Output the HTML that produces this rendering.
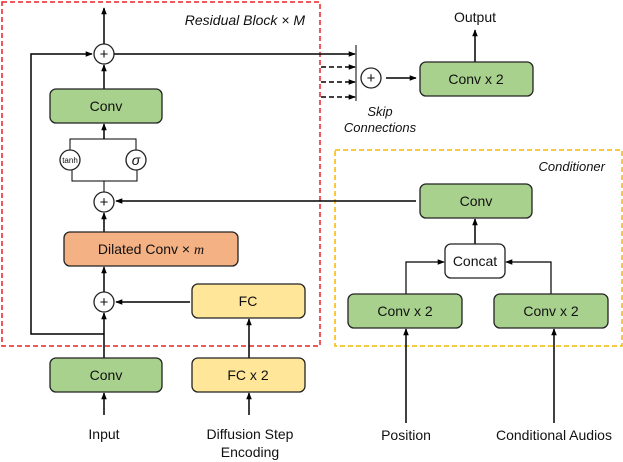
<!DOCTYPE html>
<html><head><meta charset="utf-8"><style>
html,body{margin:0;padding:0;background:#fff;}
svg{display:block;}
text{font-family:"Liberation Sans",sans-serif;fill:#111;}
</style></head><body>
<svg width="623" height="462" viewBox="0 0 623 462" xmlns="http://www.w3.org/2000/svg">
<defs>
<marker id="a" viewBox="0 0 10 10" refX="9" refY="5" markerWidth="7" markerHeight="7" orient="auto-start-reverse" markerUnits="userSpaceOnUse"><path d="M0,1 L10,5 L0,9 z" fill="#000"/></marker>
</defs>
<!-- boxes outlines -->
<rect x="2" y="2" width="318" height="344" fill="none" stroke="#e8202a" stroke-width="1.5" stroke-dasharray="5,3"/>
<rect x="335" y="150" width="287" height="196" fill="none" stroke="#f5b800" stroke-width="1.5" stroke-dasharray="5,3"/>
<text x="305" y="25" text-anchor="end" font-style="italic" font-size="14">Residual Block × M</text>
<text x="605" y="171" text-anchor="end" font-style="italic" font-size="13">Conditioner</text>

<g stroke="#000" stroke-width="1.5" fill="none">
<!-- residual loop -->
<polyline points="104,334 31,334 31,54 92,54" marker-end="url(#a)"/>
<line x1="104" y1="44" x2="104" y2="8" marker-end="url(#a)"/>
<line x1="114" y1="54" x2="355" y2="54" marker-end="url(#a)"/>
<line x1="104" y1="89" x2="104" y2="65" marker-end="url(#a)"/>
<line x1="104" y1="139" x2="104" y2="124" marker-end="url(#a)"/>
<polyline points="70,150 70,139 136,139 136,150" stroke-width="1"/>
<polyline points="72,170 72,181 137,181 137,170" stroke-width="1"/>
<line x1="104" y1="181" x2="104" y2="192" stroke-width="1"/>
<line x1="104" y1="232" x2="104" y2="213" marker-end="url(#a)"/>
<line x1="104" y1="292" x2="104" y2="267" marker-end="url(#a)"/>
<line x1="104" y1="358" x2="104" y2="313" marker-end="url(#a)"/>
<line x1="104" y1="415" x2="104" y2="393" marker-end="url(#a)"/>
<line x1="190" y1="302" x2="116" y2="302" marker-end="url(#a)"/>
<line x1="249" y1="358" x2="249" y2="319" marker-end="url(#a)"/>
<line x1="249" y1="415" x2="249" y2="393" marker-end="url(#a)"/>
<line x1="416" y1="201" x2="116" y2="201" marker-end="url(#a)"/>
<!-- skip -->
<line x1="356" y1="45" x2="356" y2="101" stroke-width="1"/>
<line x1="321" y1="67" x2="355" y2="67" stroke-dasharray="5,3" marker-end="url(#a)"/>
<line x1="321" y1="82" x2="355" y2="82" stroke-dasharray="5,3" marker-end="url(#a)"/>
<line x1="321" y1="97" x2="355" y2="97" stroke-dasharray="5,3" marker-end="url(#a)"/>
<line x1="386" y1="78" x2="416" y2="78" marker-end="url(#a)"/>
<line x1="475" y1="62" x2="475" y2="30" marker-end="url(#a)"/>
<!-- conditioner -->
<line x1="475" y1="244" x2="475" y2="219" marker-end="url(#a)"/>
<polyline points="406,294 406,262 444,262" marker-end="url(#a)" stroke-width="1.2"/>
<polyline points="551,294 551,262 506,262" marker-end="url(#a)" stroke-width="1.2"/>
<line x1="406" y1="423" x2="406" y2="329" marker-end="url(#a)"/>
<line x1="554" y1="423" x2="554" y2="329" marker-end="url(#a)"/>
</g>

<g stroke="#222" stroke-width="1.3">
<rect x="50" y="89" width="112" height="34" rx="6" fill="#a9d18e"/>
<rect x="64" y="232" width="174" height="34" rx="6" fill="#f4b183"/>
<rect x="192" y="284" width="113" height="34" rx="6" fill="#ffe699"/>
<rect x="50" y="358" width="112" height="34" rx="6" fill="#a9d18e"/>
<rect x="192" y="358" width="113" height="34" rx="6" fill="#ffe699"/>
<rect x="420" y="62" width="113" height="34" rx="6" fill="#a9d18e"/>
<rect x="420" y="184" width="112" height="34" rx="6" fill="#a9d18e"/>
<rect x="445" y="244" width="60" height="34" rx="6" fill="#fff"/>
<rect x="348" y="294" width="114" height="34" rx="6" fill="#a9d18e"/>
<rect x="494" y="294" width="114" height="34" rx="6" fill="#a9d18e"/>
<g fill="#fff">
<circle cx="104" cy="54" r="10"/><circle cx="104" cy="202" r="10"/><circle cx="104" cy="302" r="10"/>
<circle cx="371" cy="78" r="10"/><circle cx="70" cy="160" r="10"/><circle cx="136" cy="160" r="10"/>
</g>
</g>
<g font-size="14" text-anchor="middle">
<text x="104" y="59" font-size="15">+</text><text x="104" y="207" font-size="15">+</text><text x="104" y="307" font-size="15">+</text><text x="371" y="83" font-size="15">+</text>
<text x="70" y="163" font-size="8">tanh</text>
<text x="136" y="165" font-size="14" font-style="italic">σ</text>
<text x="106" y="111">Conv</text>
<text x="151" y="254">Dilated Conv × <tspan font-style="italic" font-family="Liberation Serif">m</tspan></text>
<text x="248" y="306">FC</text>
<text x="106" y="380">Conv</text>
<text x="248" y="380">FC x 2</text>
<text x="476" y="84">Conv x 2</text>
<text x="476" y="206">Conv</text>
<text x="475" y="266">Concat</text>
<text x="405" y="316">Conv x 2</text>
<text x="551" y="316">Conv x 2</text>
<text x="475" y="22">Output</text>
<text x="104" y="439">Input</text>
<text x="250" y="439">Diffusion Step</text>
<text x="250" y="457">Encoding</text>
<text x="406" y="440">Position</text>
<text x="554" y="440">Conditional Audios</text>
<text x="380" y="116" text-anchor="middle" font-style="italic" font-size="13">Skip</text>
<text x="380" y="132" text-anchor="middle" font-style="italic" font-size="13">Connections</text>
</g>
</svg>
</body></html>
